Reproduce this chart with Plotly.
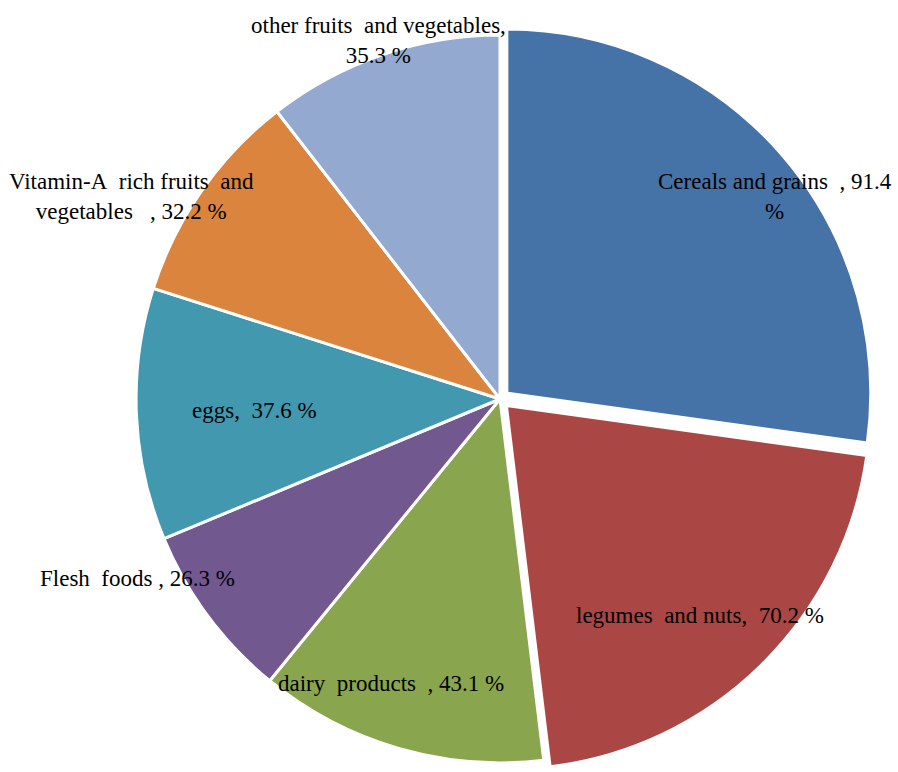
import plotly.graph_objects as go

categories = ["Cereals and grains", "legumes and nuts", "dairy products", "Flesh foods",
              "eggs", "Vitamin-A rich fruits and vegetables", "other fruits and vegetables"]
values = [91.4, 70.2, 43.1, 26.3, 37.6, 32.2, 35.3]
colors = ["#4572A7", "#AA4643", "#89A54E", "#71588F", "#4198AF", "#DB843D", "#93A9CF"]
pulls = [0.025, 0.025, 0, 0, 0, 0, 0]
label_texts = ["Cereals and grains  , 91.4<br>%",
               "legumes  and nuts,  70.2 %",
               "dairy  products  , 43.1 %",
               "Flesh  foods , 26.3 %",
               "eggs,  37.6 %",
               "Vitamin-A  rich fruits  and<br>vegetables   , 32.2 %",
               "other fruits  and vegetables,<br>35.3 %"]
# label anchor positions in window pixels (x, y)
label_pos = [(775, 196), (700, 615), (391, 683), (137, 578), (254, 410), (131, 196), (378, 40)]

W, H = 898, 772
ml, mr, mt, mb = 102, 0, 26, 0
pw, ph = W - ml - mr, H - mt - mb

fig = go.Figure(go.Pie(
    labels=categories, values=values, sort=False, direction="clockwise", rotation=0,
    marker=dict(colors=colors, line=dict(color="white", width=3)),
    pull=pulls, textinfo="none", hoverinfo="label+value", showlegend=False,
))

anns = []
for txt, (px, py) in zip(label_texts, label_pos):
    anns.append(dict(
        text=txt.replace("  ", "\u00a0 "), x=(px - ml) / pw, y=1 - (py - mt) / ph,
        xref="paper", yref="paper", xanchor="center", yanchor="middle", align="center",
        showarrow=False, font=dict(family="Liberation Serif", size=23, color="black"),
    ))

fig.update_layout(
    width=W, height=H, margin=dict(l=ml, r=mr, t=mt, b=mb),
    paper_bgcolor="white", plot_bgcolor="white", annotations=anns,
)
fig.write_html("out.html")
